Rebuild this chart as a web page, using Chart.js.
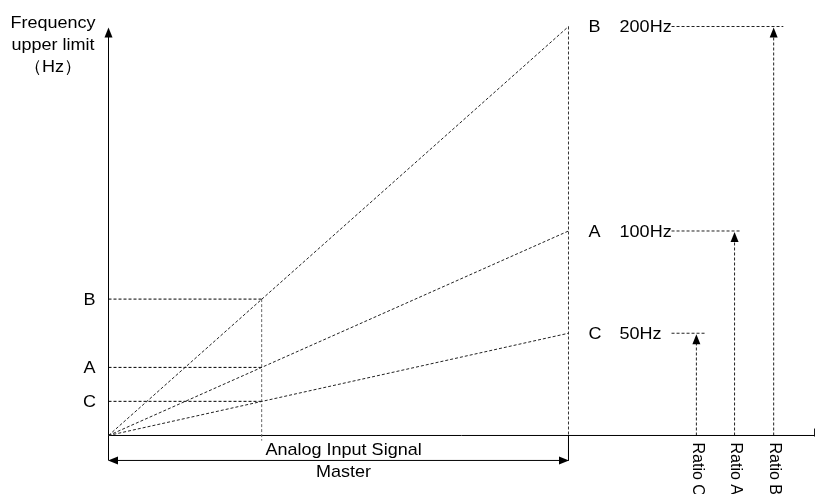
<!DOCTYPE html>
<html>
<head>
<meta charset="utf-8">
<script src="https://cdn.jsdelivr.net/npm/chart.js@4.4.1/dist/chart.umd.min.js"></script>
<style>
  html, body { margin: 0; padding: 0; background: #fff; }
  #wrap { width: 815px; height: 494px; }
</style>
</head>
<body>
<div id="wrap"><canvas id="c" width="815" height="494"></canvas></div>
<script>
// Upper-limit curves: frequency limit reached at full master signal (signal = 1)
const curveNames = ['B', 'A', 'C'];
const upperLimitHz = [200, 100, 50];
const upperLimitText = ['200Hz', '100Hz', '50Hz'];

const guideSignal = 0.333;
const guideLimitHz = [66.7, 33.3, 16.7];

// Ratio settings on the right-hand side (x position in signal units)
const ratioNames = ['Ratio B', 'Ratio A', 'Ratio C'];
const ratioSignal = [1.446, 1.361, 1.278];

// Axis / annotation texts
const yTitle = ['Frequency', 'upper limit', '（Hz）'];
const xTitle = 'Analog Input Signal';
const spanTitle = 'Master';

const FONT = '17px "Liberation Sans", Arial, sans-serif';
const ROT_FONT = '16px "Liberation Sans", Arial, sans-serif';
const STRETCH = 1.06;
const INK = '#000';
const DASH = [3, 2];
const dimY = -12.2;         // level of the "Master" dimension arrow
const labelStart = 1.224;   // where the dashed leader from each Hz label starts
const leaderEnd = [1.467, 1.376, 1.296];

function seg(x1, y1, x2, y2, dashed, color) {
  return {
    data: [{ x: x1, y: y1 }, { x: x2, y: y2 }],
    showLine: true,
    borderColor: color || INK,
    borderWidth: 1,
    borderDash: dashed ? DASH : [],
    pointRadius: 0,
    fill: false
  };
}

const datasets = [];
// diagonal limit curves
upperLimitHz.forEach(v => datasets.push(seg(0, 0, 1, v, true, '#222')));
// horizontal guides from the y axis to the example signal
guideLimitHz.forEach(v => datasets.push(seg(0, v, guideSignal, v, true)));
// vertical guide at the example signal
datasets.push(seg(guideSignal, guideLimitHz[0], guideSignal, -2.5, true, '#666'));
// vertical at full signal
datasets.push(seg(1, upperLimitHz[0], 1, 0, true, '#333'));
datasets.push(seg(1, 0, 1, dimY, false));
// axes
datasets.push(seg(0, dimY, 0, 195, false));
datasets.push(seg(0, 0, 1.535, 0, false));
datasets.push(seg(1.535, -0.5, 1.535, 3.4, false));
// dimension line for the master span
datasets.push(seg(0.02, dimY, 0.98, dimY, false));
// ratio arrows and dashed leaders from the Hz labels
ratioSignal.forEach((r, i) => {
  datasets.push(seg(r, 0, r, upperLimitHz[i] - 4, true, '#222'));
  datasets.push(seg(labelStart, upperLimitHz[i], leaderEnd[i], upperLimitHz[i], true, '#222'));
});

function arrowHead(ctx, x, y, dir) {
  const L = 10, W = 4;
  ctx.beginPath();
  ctx.moveTo(x, y);
  if (dir === 'up') { ctx.lineTo(x - W, y + L); ctx.lineTo(x + W, y + L); }
  if (dir === 'left') { ctx.lineTo(x + L, y - W); ctx.lineTo(x + L, y + W); }
  if (dir === 'right') { ctx.lineTo(x - L, y - W); ctx.lineTo(x - L, y + W); }
  ctx.closePath();
  ctx.fill();
}

function text(ctx, t, x, y) {
  ctx.save();
  ctx.translate(x, y);
  ctx.scale(STRETCH, 1);
  ctx.fillText(t, 0, 0);
  ctx.restore();
}

const annotate = {
  id: 'annotate',
  afterDatasetsDraw(chart) {
    const { ctx, scales } = chart;
    const X = v => scales.x.getPixelForValue(v);
    const Y = v => scales.y.getPixelForValue(v);
    ctx.save();
    ctx.fillStyle = INK;
    // arrowheads
    arrowHead(ctx, X(0), Y(199.5), 'up');
    arrowHead(ctx, X(0) - 0.5, Y(dimY), 'left');
    arrowHead(ctx, X(1) + 0.5, Y(dimY), 'right');
    ratioSignal.forEach((r, i) => arrowHead(ctx, X(r), Y(upperLimitHz[i]) + 1, 'up'));

    ctx.font = FONT;
    ctx.fillStyle = '#000';
    ctx.textBaseline = 'middle';
    // curve letters on the y axis side
    ctx.textAlign = 'center';
    curveNames.forEach((n, i) => text(ctx, n, X(-0.0413), Y(guideLimitHz[i]) + 1));
    // curve letters and limits on the right
    ctx.textAlign = 'left';
    curveNames.forEach((n, i) => {
      text(ctx, n, X(1.0435), Y(upperLimitHz[i]) + 1);
      text(ctx, upperLimitText[i], X(1.111), Y(upperLimitHz[i]) + 1);
    });
    // y axis title
    ctx.textAlign = 'center';
    ctx.textBaseline = 'alphabetic';
    yTitle.forEach((t, i) => text(ctx, t, 53, 28 + i * 22));
    // x axis titles
    ctx.textBaseline = 'middle';
    text(ctx, xTitle, X(0.511), Y(0) + 15);
    text(ctx, spanTitle, X(0.511), Y(dimY) + 12);
    // rotated ratio labels
    ctx.font = ROT_FONT;
    ctx.textAlign = 'left';
    ratioSignal.forEach((r, i) => {
      ctx.save();
      ctx.translate(X(r) + 1, Y(0) + 7);
      ctx.rotate(Math.PI / 2);
      ctx.fillText(ratioNames[i], 0, 0);
      ctx.restore();
    });
    ctx.restore();
  }
};

new Chart(document.getElementById('c'), {
  type: 'scatter',
  data: { datasets },
  options: {
    responsive: false,
    animation: false,
    devicePixelRatio: 1,
    layout: { padding: 0 },
    plugins: { legend: { display: false }, tooltip: { enabled: false } },
    scales: {
      x: { type: 'linear', display: false, min: -0.23587, max: 1.53587 },
      y: { type: 'linear', display: false, min: -28.61, max: 212.96 }
    }
  },
  plugins: [annotate]
});
</script>
</body>
</html>
